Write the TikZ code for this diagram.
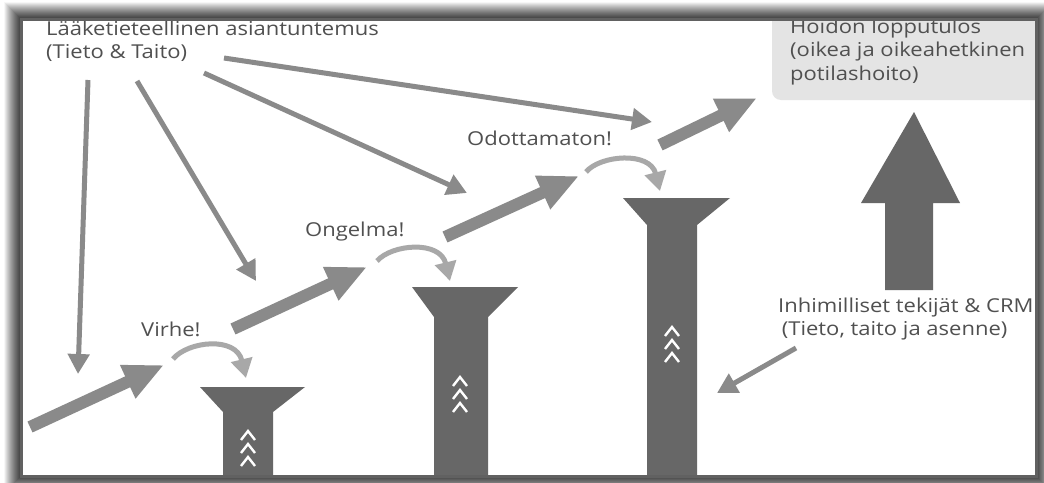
\documentclass[tikz,border=0pt]{standalone}
\usepackage{fontspec}
\setmainfont{Open Sans}
\usepackage{graphicx}
\usetikzlibrary{arrows.meta}
\definecolor{txt}{HTML}{505050}
\definecolor{arr}{HTML}{8A8A8A}
\definecolor{hopc}{HTML}{A8A8A8}
\definecolor{pil}{HTML}{676767}
\definecolor{boxc}{HTML}{E4E4E4}
\newcommand{\sqz}[1]{\scalebox{1}[0.87]{#1}}
\begin{document}
\begin{tikzpicture}[x=1pt,y=-1pt,
 lbl/.style={inner sep=0pt, anchor=base west, text=txt, font=\fontsize{22}{27.5}\selectfont},
 know/.style={draw=arr, line width=5pt, -{Triangle[length=20pt,width=21pt]}},
 mainflow/.style={draw=arr, line width=12pt, -{Triangle[length=40pt,width=34pt]}},
 hop/.style={draw=hopc, line width=5pt, -{Triangle[length=19pt,width=21pt]}},
 pillar/.style={fill=pil},
 chev/.style={draw=white, line width=2.4pt},
]
\useasboundingbox (0,0) rectangle (1044,482);
\fill[white] (0,0) rectangle (1044,482);
% frame shadow
\foreach \k in {1,...,16}{
  \pgfmathsetmacro{\op}{0.5*(1-\k/17)}
  \draw[black, opacity=\op, line width=1.05pt] (21-\k,19-\k) rectangle (1036+\k,476+\k);
}
\begin{scope}
\clip (21,19) rectangle (1036,476);
\fill[white] (21,19) rectangle (1036,476);
% outcome box
\fill[boxc, rounded corners=9pt] (772,5) rectangle (1050,100);
% pillars
\fill[pillar] (200,387) -- (305,387) -- (273,412) -- (273,485) -- (223,485) -- (223,412) -- cycle;
\fill[pillar] (412,287) -- (518,287) -- (488,317) -- (488,485) -- (434,485) -- (434,317) -- cycle;
\fill[pillar] (623,198) -- (730,198) -- (697,225) -- (697,485) -- (647,485) -- (647,225) -- cycle;
\foreach \cx/\y in {248/431, 248/444, 248/457, 460/377, 460/390, 460/403, 672/327, 672/340, 672/353}
  \draw[chev] (\cx-7,\y+9) -- (\cx,\y) -- (\cx+7,\y+9);
% big arrow
\fill[pillar] (914,112) -- (960,203) -- (933,203) -- (933,290) -- (885,290) -- (885,203) -- (861,203) -- cycle;
% texts
\node[lbl] (expertise) at (46,35) {\sqz{\begin{tabular}[t]{@{}l@{}}Lääketieteellinen asiantuntemus\\(Tieto \& Taito)\end{tabular}}};
\node[lbl] (outcome) at (790,33) {\sqz{\begin{tabular}[t]{@{}l@{}}Hoidon lopputulos\\(oikea ja oikeahetkinen\\potilashoito)\end{tabular}}};
\node[lbl] (human) at (778,312) {\sqz{\begin{tabular}[t]{@{}l@{}}Inhimilliset tekijät \& CRM\\\,(Tieto, taito ja asenne)\end{tabular}}};
\node[lbl] (virhe) at (141,336) {\sqz{Virhe!}};
\node[lbl] (ongelma) at (305,236) {\sqz{Ongelma!}};
\node[lbl] (odott) at (467,145) {\sqz{Odottamaton!}};
% coordinates
\coordinate (e1s) at (88,80);   \coordinate (e1t) at (78,374);
\coordinate (e2s) at (137,81);  \coordinate (e2t) at (256,281);
\coordinate (e3s) at (204,73);  \coordinate (e3t) at (467,193);
\coordinate (e4s) at (224,58);  \coordinate (e4t) at (652,122);
\coordinate (f1s) at (30,427);  \coordinate (f1t) at (164,365);
\coordinate (f2s) at (233,329); \coordinate (f2t) at (367,267);
\coordinate (f3s) at (445,237); \coordinate (f3t) at (579,176);
\coordinate (f4s) at (660,145); \coordinate (f4t) at (757,98);
\coordinate (h1s) at (173,359); \coordinate (h1t) at (246,378);
\coordinate (h2s) at (377,261); \coordinate (h2t) at (450,281);
\coordinate (h3s) at (586,172); \coordinate (h3t) at (660,191);
\coordinate (hfs) at (796,348); \coordinate (hft) at (717,393);
% knowledge arrows
\draw[know] (e1s) -- (e1t);
\draw[know] (e2s) -- (e2t);
\draw[know] (e3s) -- (e3t);
\draw[know] (e4s) -- (e4t);
\draw[know] (hfs) -- (hft);
% main flow
\draw[mainflow] (f1s) -- (f1t);
\draw[mainflow] (f2s) -- (f2t);
\draw[mainflow] (f3s) -- (f3t);
\draw[mainflow] (f4s) -- (f4t);
% hops
\draw[hop] (h1s) .. controls (188,341) and (236,336) .. (h1t);
\draw[hop] (h2s) .. controls (392,244) and (440,240) .. (h2t);
\draw[hop] (h3s) .. controls (600,155) and (650,151) .. (h3t);
\end{scope}
\draw[black!62, line width=3pt] (21,19) rectangle (1036,476);
\end{tikzpicture}
\end{document}
